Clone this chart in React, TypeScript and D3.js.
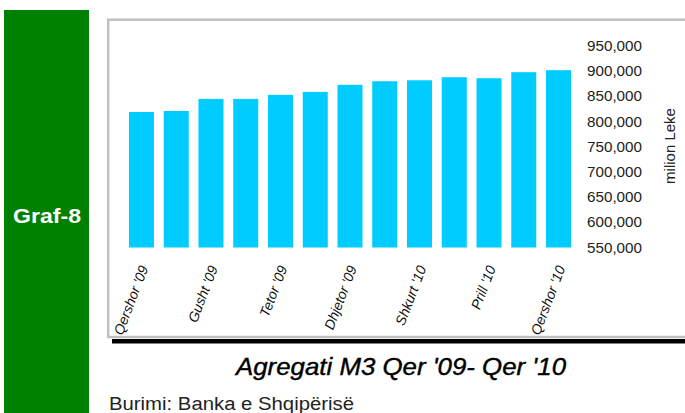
import React from "react";
import * as d3 from "d3";

const categories = [
  "Qershor '09", "Korrik '09", "Gusht '09", "Shtator '09", "Tetor '09", "Nëntor '09",
  "Dhjetor '09", "Janar '10", "Shkurt '10", "Mars '10", "Prill '10", "Maj '10", "Qershor '10",
];
const values = [819000, 821000, 845000, 845000, 853000, 859000, 873000, 880000, 882000, 888000, 886000, 898000, 902000];
const yTicks = [550000, 600000, 650000, 700000, 750000, 800000, 850000, 900000, 950000];
const shownLabels = ["Qershor '09", "Gusht '09", "Tetor '09", "Dhjetor '09", "Shkurt '10", "Prill '10", "Qershor '10"];
const titleText = "Agregati M3 Qer '09- Qer '10";
const sourceText = "Burimi: Banka e Shqipërisë";
const yTitle = "milion Leke";
const panelText = "Graf-8";

export default function App() {
  const x = d3.scaleBand<string>().domain(categories).range([124.1, 575.9]).paddingInner(0.28).paddingOuter(0.14);
  const y = d3.scaleLinear().domain([550000, 950000]).range([247.5, 46]);
  const fmt = d3.format(",");
  const font = "Liberation Sans, Arial, sans-serif";
  const narrow = "Liberation Sans Narrow, Liberation Sans, Arial, sans-serif";
  return (
    <svg width={685} height={413} style={{ position: "absolute", left: 0, top: 0, background: "#fff" }}>
      <rect x={4} y={10} width={85} height={403} fill="#008000" />
      <text x={47} y={223} fill="#fff" fontFamily={font} fontWeight="bold" fontSize={20} textAnchor="middle" textLength={68} lengthAdjust="spacingAndGlyphs">{panelText}</text>
      <rect x={108.2} y={19.7} width={620} height={317.3} fill="#fff" stroke="#c0c0c0" strokeWidth={2.5} />
      <rect x={112} y={339} width={573} height={4.5} fill="#000" />
      {categories.map((c, i) => (
        <rect key={c} x={x(c)} y={y(values[i])} width={x.bandwidth()} height={y(550000) - y(values[i])} fill="#00ccff" />
      ))}
      {yTicks.map((t) => (
        <text key={t} x={587} y={y(t)} dy="0.35em" fontFamily={font} fontSize={14.5} fill="#222" textLength={55} lengthAdjust="spacingAndGlyphs">{fmt(t)}</text>
      ))}
      <text transform="translate(675,146) rotate(-90)" textAnchor="middle" fontFamily={font} fontSize={15} fill="#222">{yTitle}</text>
      {shownLabels.map((c) => (
        <text key={c} transform={`translate(${(x(c) as number) + x.bandwidth() / 2 + 7},268) rotate(-69)`} textAnchor="end" fontFamily={font} fontStyle="italic" fontSize={14} fill="#111">{c}</text>
      ))}
      <text x={401} y={375} textAnchor="middle" fontFamily={narrow} fontStyle="italic" fontSize={24} fill="#000" stroke="#000" strokeWidth={0.4} textLength={330} lengthAdjust="spacingAndGlyphs">{titleText}</text>
      <text x={109} y={410} fontFamily={narrow} fontSize={18} fill="#222" textLength={245} lengthAdjust="spacingAndGlyphs">{sourceText}</text>
    </svg>
  );
}
